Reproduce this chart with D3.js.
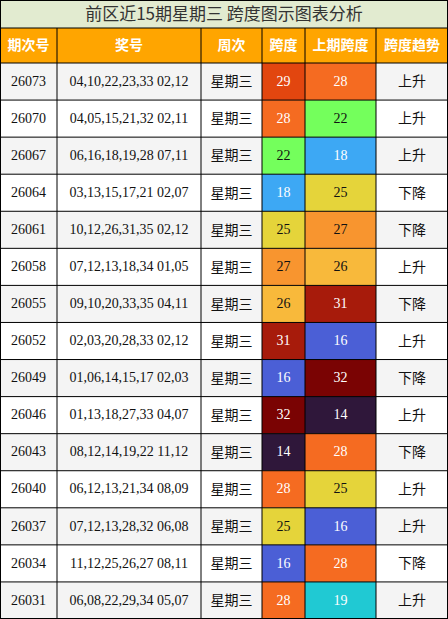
<!DOCTYPE html>
<html><head><meta charset="utf-8">
<script src="https://cdn.jsdelivr.net/npm/d3@7"></script>
<style>body{margin:0;background:#fff}</style>
</head><body><svg></svg>
<script>
const title = "前区近15期星期三 跨度图示图表分析";
const headers = ["期次号", "奖号", "周次", "跨度", "上期跨度", "跨度趋势"];
const issues = ["26073","26070","26067","26064","26061","26058","26055","26052","26049","26046","26043","26040","26037","26034","26031"];
const numbers = ["04,10,22,23,33 02,12","04,05,15,21,32 02,11","06,16,18,19,28 07,11","03,13,15,17,21 02,07","10,12,26,31,35 02,12","07,12,13,18,34 01,05","09,10,20,33,35 04,11","02,03,20,28,33 02,12","01,06,14,15,17 02,03","01,13,18,27,33 04,07","08,12,14,19,22 11,12","06,12,13,21,34 08,09","07,12,13,28,32 06,08","11,12,25,26,27 08,11","06,08,22,29,34 05,07"];
const spans = [29,28,22,18,25,27,26,31,16,32,14,28,25,16,28];
const prevSpans = [28,22,18,25,27,26,31,16,32,14,28,25,16,28,19];
const trends = ["上升","上升","上升","下降","下降","上升","下降","上升","下降","上升","下降","上升","上升","下降","上升"];

const spanColor = {29:"#e2460f",28:"#f56b21",22:"#74ff5c",18:"#3da8f4",25:"#e5d43a",27:"#f8952f",26:"#f8b93b",31:"#a71b0b",16:"#4b5fd6",32:"#7a0303",14:"#2f173a",19:"#20c9d3"};
const darkText = new Set([22,25,27,26]);

const W = 448, H = 619, titleH = 28, headH = 35;
const colEdges = [0,57,201,262,305,376,448];
const svg = d3.select("svg").attr("width", W).attr("height", H);
const y = d3.scaleBand().domain(issues).range([titleH + headH, H]);

svg.append("rect").attr("width", W).attr("height", titleH).attr("fill", "#e2ebd0");
svg.append("text").attr("x", W/2).attr("y", titleH/2 + 1).attr("text-anchor","middle").attr("dominant-baseline","middle")
  .attr("font-family","Noto Sans CJK SC").attr("font-size", 17).attr("fill","#333").text(title);

headers.forEach((h, i) => {
  svg.append("rect").attr("x", colEdges[i]).attr("y", titleH).attr("width", colEdges[i+1]-colEdges[i]).attr("height", headH).attr("fill","#ffa500");
  svg.append("text").attr("x", (colEdges[i]+colEdges[i+1])/2).attr("y", titleH + headH/2 + 1)
    .attr("text-anchor","middle").attr("dominant-baseline","middle").attr("font-family","Noto Sans CJK SC")
    .attr("font-weight","bold").attr("font-size", 14).attr("fill","#fff").text(h);
});

issues.forEach((iss, r) => {
  const y0 = y(iss), bh = y.bandwidth();
  const bg = r % 2 === 0 ? "#f4f4f4" : "#ffffff";
  const cells = [
    {t: iss, fill: bg, color: "#111", font: "Liberation Serif"},
    {t: numbers[r], fill: bg, color: "#111", font: "Liberation Serif"},
    {t: "星期三", fill: bg, color: "#111", font: "Noto Sans CJK SC"},
    {t: spans[r], fill: spanColor[spans[r]], color: darkText.has(spans[r]) ? "#111" : "#fff", font: "Liberation Serif"},
    {t: prevSpans[r], fill: spanColor[prevSpans[r]], color: darkText.has(prevSpans[r]) ? "#111" : "#fff", font: "Liberation Serif"},
    {t: trends[r], fill: bg, color: "#111", font: "Noto Sans CJK SC"}
  ];
  cells.forEach((c, i) => {
    svg.append("rect").attr("x", colEdges[i]).attr("y", y0).attr("width", colEdges[i+1]-colEdges[i]).attr("height", bh).attr("fill", c.fill);
    svg.append("text").attr("x", (colEdges[i]+colEdges[i+1])/2).attr("y", y0 + bh/2 + 1)
      .attr("text-anchor","middle").attr("dominant-baseline","middle").attr("font-family", c.font)
      .attr("font-size", 14).attr("fill", c.color).text(c.t);
  });
});

// grid lines
const g = svg.append("g").attr("stroke","#000").attr("stroke-width",1);
colEdges.forEach(x => g.append("line").attr("x1", Math.min(Math.max(x,0.5),W-0.5)).attr("x2", Math.min(Math.max(x,0.5),W-0.5)).attr("y1", titleH).attr("y2", H));
g.append("line").attr("x1",0.5).attr("x2",0.5).attr("y1",0).attr("y2",titleH);
g.append("line").attr("x1",W-0.5).attr("x2",W-0.5).attr("y1",0).attr("y2",titleH);
const rowEdges = [0.5, titleH, titleH + headH].concat(issues.map(d => y(d) + y.bandwidth()));
rowEdges.forEach(v => { const yy = Math.min(v, H-0.5); g.append("line").attr("x1",0).attr("x2",W).attr("y1",yy).attr("y2",yy); });
</script></body></html>
